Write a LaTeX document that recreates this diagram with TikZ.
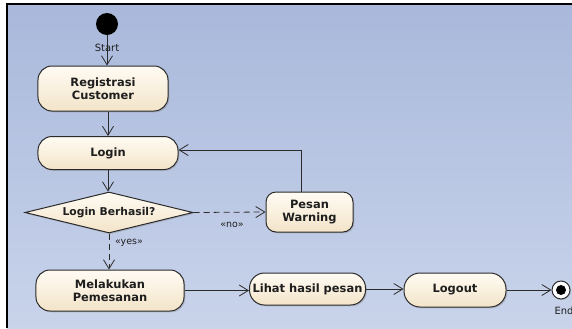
\documentclass[tikz,border=0pt]{standalone}
\usepackage{fontspec}
\setmainfont{DejaVu Sans}
\usetikzlibrary{arrows.meta,shapes.geometric,shadows}
\definecolor{bgtop}{HTML}{A9B8DB}
\definecolor{bgbot}{HTML}{C9D4EB}
\definecolor{actop}{HTML}{FFFBF3}
\definecolor{acbot}{HTML}{F3E4C9}
\definecolor{edge}{HTML}{2B2B2B}
\definecolor{ink}{HTML}{1E1E1E}
\begin{document}
\begin{tikzpicture}[x=1bp,y=-1bp,
  action/.style={draw=edge, line width=1bp, rounded corners=14bp,
    top color=actop, bottom color=acbot,
    drop shadow={shadow xshift=1.3bp,shadow yshift=-1.3bp,opacity=0.35},
    font=\fontsize{11.5}{13}\selectfont\bfseries, text=ink, align=center, inner sep=0pt},
  decision/.style={action, shape=diamond, rounded corners=0pt, aspect=4.1,
    font=\fontsize{10.8}{13}\selectfont\bfseries},
  flow/.style={draw=edge, line width=0.8bp, -{Straight Barb[length=9bp,width=11bp,line width=0.8bp]}},
  guardflow/.style={flow, dash pattern=on 6bp off 4bp},
  guard/.style={font=\fontsize{9.5}{10}\selectfont, text=ink, inner sep=0pt},
  pseudo/.style={font=\fontsize{10}{11}\selectfont, text=ink, inner sep=0pt},
]
\useasboundingbox (0,0) rectangle (572,328);
\fill[white] (0,0) rectangle (572,328);
% diagram canvas
\shade[top color=bgtop, bottom color=bgbot] (7,4) rectangle (572,328);
\draw[black, line width=1.5bp] (7,328) -- (7,4) -- (572,4);

% nodes
\node[circle, fill=black, minimum size=22bp, inner sep=0pt] (start) at (107,24) {};
\node[action, minimum width=130bp, minimum height=45bp] (reg) at (103,88.5) {Registrasi\\Customer};
\node[action, minimum width=140bp, minimum height=33bp] (login) at (108,153) {Login};
\node[decision, minimum width=168bp, minimum height=41bp] (dec) at (109,212.5) {Login Berhasil?};
\node[action, minimum width=87bp, minimum height=40bp, rounded corners=10bp] (pw) at (309.5,212) {Pesan\\Warning};
\node[action, minimum width=148bp, minimum height=41bp] (mel) at (110,290.5) {Melakukan\\Pemesanan};
\node[action, minimum width=116bp, minimum height=32bp, rounded corners=15bp] (lihat) at (307.5,289) {Lihat hasil pesan};
\node[action, minimum width=102bp, minimum height=34bp, rounded corners=16bp] (logout) at (455,290) {Logout};
\node[circle, draw=edge, line width=1bp, fill=white, minimum size=18bp, inner sep=0pt,
  drop shadow={shadow xshift=1bp,shadow yshift=-1bp,opacity=0.3}] (endn) at (561,290) {};
\node[circle, fill=black, minimum size=10bp, inner sep=0pt] (enddot) at (endn.center) {};

% connectors
\draw[flow] (start.south) -- (start.south |- reg.north);
\node[pseudo] (startlbl) at (107,48) {Start};
\draw[flow] (reg.south -| login.north) -- (login.north);
\draw[flow] (login.south) -- (login.south |- dec.north);
\draw[guardflow] (dec.east) -- (pw.west);
\draw[guardflow] (dec.south) -- (dec.south |- mel.north);
\draw[flow] ([xshift=-8bp]pw.north) |- ([yshift=3bp]login.east);
\draw[flow] (mel.east) -- (mel.east -| lihat.west);
\draw[flow] (lihat.east) -- (lihat.east -| logout.west);
\draw[flow] (logout.east) -- (endn.west);

% labels
\node[guard] (nolbl) at (232,225) {«no»};
\node[guard] (yeslbl) at (129,243) {«yes»};
\node[pseudo] (endlbl) at (564,311) {End};
\end{tikzpicture}
\end{document}
